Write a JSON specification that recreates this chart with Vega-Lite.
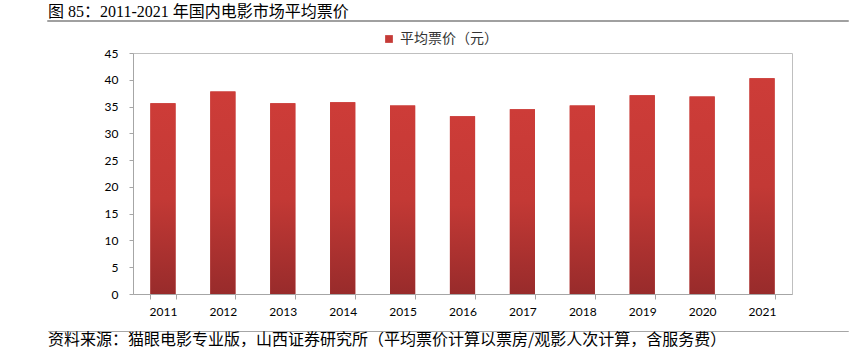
{
  "$schema": "https://vega.github.io/schema/vega-lite/v6.json",
  "background": "#ffffff",
  "padding": {"left": 47, "top": 3, "right": 0, "bottom": 0},
  "config": {
    "view": {"stroke": null},
    "font": "Lato, 'Noto Sans CJK SC'"
  },
  "bounds": "full",
  "spacing": 6,
  "vconcat": [
    {
      "bounds": "flush",
      "spacing": 31,
      "vconcat": [
        {
          "width": 800,
          "height": 0.01,
          "view": {"stroke": "#808080", "strokeWidth": 1.5},
          "title": {
            "text": "图 85：2011-2021 年国内电影市场平均票价",
            "anchor": "start",
            "font": "'Liberation Serif', 'Noto Sans CJK SC'",
            "fontSize": 16,
            "fontWeight": "normal",
            "color": "#000000",
            "offset": -5
          },
          "data": {"values": [{}]},
          "mark": {"type": "text"},
          "encoding": {"text": {"value": ""}}
        },
        {
          "bounds": "flush",
          "spacing": 0,
          "hconcat": [
            {
              "width": 85,
              "height": 241,
              "data": {"values": [{}]},
              "mark": {"type": "text"},
              "encoding": {"text": {"value": ""}}
            },
            {
              "width": 659,
              "height": 241,
              "view": {"stroke": "#bfbfbf", "strokeWidth": 1},
              "data": {
                "values": [
                  {"year": "2011", "price": 35.6},
                  {"year": "2012", "price": 37.8},
                  {"year": "2013", "price": 35.6},
                  {"year": "2014", "price": 35.8},
                  {"year": "2015", "price": 35.2},
                  {"year": "2016", "price": 33.2},
                  {"year": "2017", "price": 34.5},
                  {"year": "2018", "price": 35.2},
                  {"year": "2019", "price": 37.1},
                  {"year": "2020", "price": 36.9},
                  {"year": "2021", "price": 40.3}
                ]
              },
              "encoding": {
                "x": {
                  "field": "year",
                  "type": "ordinal",
                  "scale": {"paddingInner": 0.58, "paddingOuter": 0.29},
                  "axis": {
                    "title": null,
                    "labelAngle": 0,
                    "labelFont": "Lato",
                    "labelFontSize": 12,
                    "labelColor": "#000000",
                    "domainColor": "#a6a6a6",
                    "tickColor": "#a6a6a6",
                    "tickSize": 5,
                    "tickBand": "extent",
                    "labelPadding": 7,
                    "grid": false
                  }
                },
                "y": {
                  "field": "price",
                  "type": "quantitative",
                  "scale": {"domain": [0, 45], "nice": false},
                  "axis": {
                    "title": null,
                    "values": [0, 5, 10, 15, 20, 25, 30, 35, 40, 45],
                    "labelFont": "Lato",
                    "labelFontSize": 12,
                    "labelColor": "#000000",
                    "domainColor": "#a6a6a6",
                    "tickColor": "#a6a6a6",
                    "tickSize": 4,
                    "labelPadding": 11,
                    "grid": false
                  }
                }
              },
              "layer": [
                {
                  "mark": {"type": "bar"},
                  "encoding": {
                    "color": {
                      "datum": "平均票价（元）",
                      "type": "nominal",
                      "scale": {"range": ["#c53a36"]},
                      "legend": {
                        "title": null,
                        "orient": "none",
                        "legendX": 334,
                        "legendY": 11,
                        "symbolType": "square",
                        "symbolSize": 60,
                        "symbolStrokeWidth": 0,
                        "labelFont": "'Noto Sans CJK SC'",
                        "labelFontSize": 14,
                        "labelColor": "#333333",
                        "labelOffset": 4
                      }
                    }
                  }
                },
                {
                  "mark": {
                    "type": "bar",
                    "color": {
                      "gradient": "linear",
                      "x1": 0, "y1": 0, "x2": 0, "y2": 1,
                      "stops": [
                        {"offset": 0, "color": "#cd3c38"},
                        {"offset": 0.5, "color": "#c33935"},
                        {"offset": 1, "color": "#982b2b"}
                      ]
                    }
                  }
                }
              ]
            }
          ]
        }
      ]
    },
    {
      "width": 800,
      "height": 0.01,
      "view": {"stroke": "#a6a6a6", "strokeWidth": 1},
      "title": {
        "text": "资料来源：猫眼电影专业版，山西证券研究所（平均票价计算以票房/观影人次计算，含服务费）",
        "orient": "bottom",
        "anchor": "start",
        "font": "'Noto Sans CJK SC'",
        "fontSize": 16,
        "fontWeight": "normal",
        "color": "#000000",
        "offset": -4
      },
      "data": {"values": [{}]},
      "mark": {"type": "text"},
      "encoding": {"text": {"value": ""}}
    }
  ]
}
